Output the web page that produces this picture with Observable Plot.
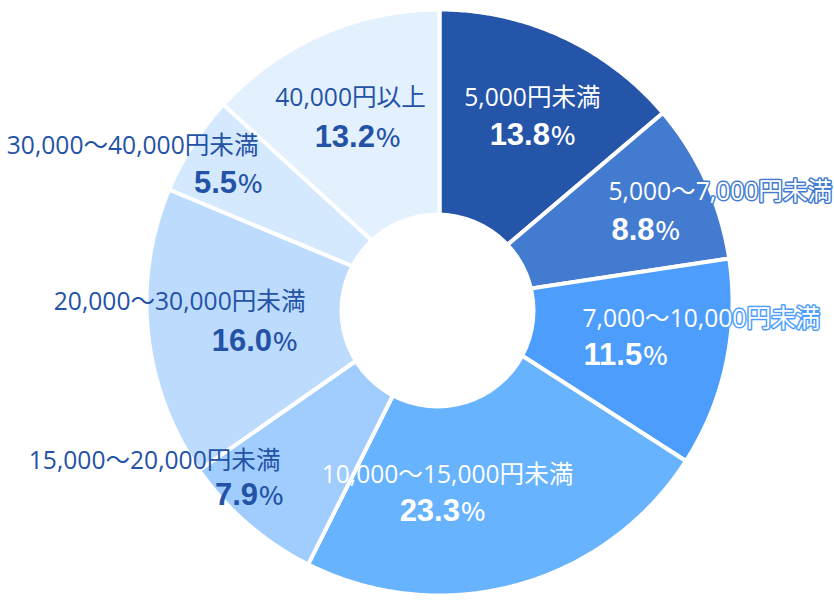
<!DOCTYPE html>
<html>
<head>
<meta charset="utf-8">
<script src="https://cdn.jsdelivr.net/npm/d3@7"></script>
<script src="https://cdn.jsdelivr.net/npm/@observablehq/plot@0.6"></script>
<style>
  html, body { margin: 0; padding: 0; background: #fff; }
  #chart svg { display: block; }
</style>
</head>
<body>
<div id="chart"></div>
<script>
// ---- data ----
const categories = ["5,000円未満", "5,000〜7,000円未満", "7,000〜10,000円未満", "10,000〜15,000円未満",
                    "15,000〜20,000円未満", "20,000〜30,000円未満", "30,000〜40,000円未満", "40,000円以上"];
const shares = [13.8, 8.8, 11.5, 23.3, 7.9, 16.0, 5.5, 13.2];

// ---- styles ----
const colors = ["#2555A9", "#437BD0", "#4D9EFC", "#67B3FD", "#A0CDFD", "#BCDBFD", "#D4E8FE", "#E3F0FE"];
const textColors = ["#ffffff", "#ffffff", "#ffffff", "#ffffff", "#2352A6", "#2352A6", "#2352A6", "#2352A6"];
const halo = [false, true, true, false, false, false, false, false];

// ---- label layout (pixel offsets from the pie centre) ----
const nameX = [93, 169, 143, 8, -159, -134, -181, -89];
const nameY = [-204, -110, 17, 173, 159, 0, -156, -204];
const nameAnchor = ["middle", "start", "start", "middle", "end", "end", "end", "middle"];
const pctX = [93, 172, 144, 3, -156, -142, -177, -82];
const pctY = [-167, -72, 53, 209, 193, 39, -119, -165];
const pctAnchor = ["middle", "start", "start", "middle", "end", "end", "end", "middle"];

// ---- geometry ----
const W = 834, H = 600, CX = 439, CY = 302, R = 293, HOLE_R = 98;
const holeOffset = {x: -2, y: 8};

const total = d3.sum(shares);
const cum = d3.cumsum(shares);
const wedges = [];
categories.forEach((cat, i) => {
  const a0 = (i === 0 ? 0 : cum[i - 1]) / total * 2 * Math.PI;
  const a1 = cum[i] / total * 2 * Math.PI;
  const n = Math.max(2, Math.ceil((a1 - a0) / (Math.PI / 360)));
  wedges.push({cat, color: colors[i], x: 0, y: 0});
  for (let k = 0; k <= n; k++) {
    const a = a0 + (a1 - a0) * k / n;
    wedges.push({cat, color: colors[i], x: R * Math.sin(a), y: -R * Math.cos(a)});
  }
  wedges.push({cat, color: colors[i], x: 0, y: 0});
});

const labels = categories.map((cat, i) => ({
  cat, share: shares[i], i,
  nx: nameX[i], ny: nameY[i], na: nameAnchor[i],
  px: pctX[i], py: pctY[i], pa: pctAnchor[i],
  tc: textColors[i], wc: colors[i], halo: halo[i]
}));

const nameFont = {fontFamily: "'Open Sans', 'Noto Sans CJK JP', sans-serif", fontSize: 24.6, fontWeight: 400};
const pctFont = {fontFamily: "'Liberation Sans', Arial, sans-serif", fontSize: 31, fontWeight: 700};

const nameMarks = ["start", "middle", "end"].flatMap(anchor => [
  Plot.text(labels.filter(d => d.na === anchor && d.halo), {x: "nx", y: "ny", text: "cat", fill: "tc", stroke: "wc", strokeWidth: 3, textAnchor: anchor, ...nameFont}),
  Plot.text(labels.filter(d => d.na === anchor && !d.halo), {x: "nx", y: "ny", text: "cat", fill: "tc", textAnchor: anchor, ...nameFont})
]);
const pctMarks = ["start", "middle", "end"].flatMap(anchor => [
  Plot.text(labels.filter(d => d.pa === anchor), {x: "px", y: "py", text: d => d.share.toFixed(1) + "%", fill: "tc", textAnchor: anchor, ...pctFont})
]);

const svg = Plot.plot({
  width: W, height: H,
  margin: 0,
  x: {domain: [-CX, W - CX], range: [0, W], axis: null},
  y: {domain: [-CY, H - CY], range: [0, H], axis: null},
  color: {type: "identity"},
  style: {background: "#fff"},
  marks: [
    Plot.line(wedges, {x: "x", y: "y", z: "cat", fill: "color", stroke: "#ffffff", strokeWidth: 4, strokeLinejoin: "round"}),
    Plot.dot([holeOffset], {x: "x", y: "y", r: HOLE_R, fill: "#ffffff", stroke: "none"}),
    ...nameMarks,
    ...pctMarks
  ]
});

// split the percentage sign into its own lighter tspan
d3.select(svg).selectAll("text").each(function () {
  const t = this.textContent;
  const m = /^(\d+\.\d)%$/.exec(t);
  if (!m) return;
  const sel = d3.select(this);
  sel.text("");
  sel.append("tspan").text(m[1]);
  sel.append("tspan").attr("font-family", "'Noto Sans CJK JP', sans-serif").attr("font-weight", 500).attr("font-size", 26).attr("dx", 1).text("%");
});

document.getElementById("chart").appendChild(svg);
</script>
</body>
</html>
